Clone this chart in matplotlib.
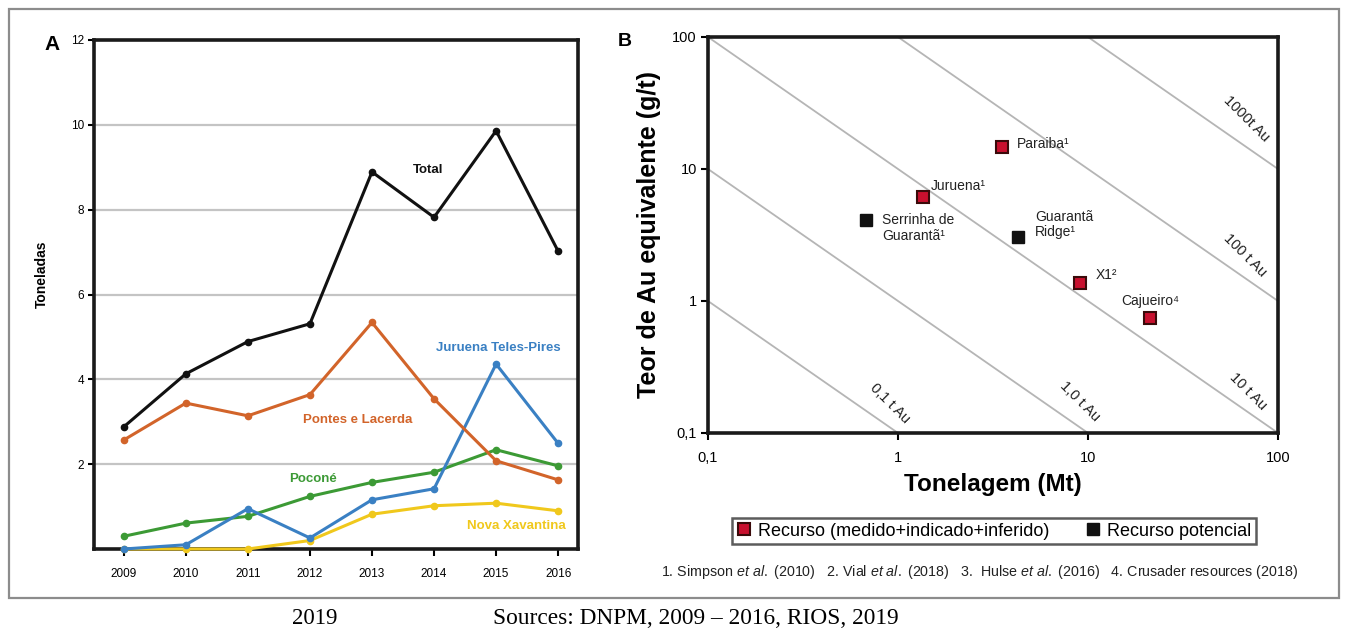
import numpy as np
import matplotlib
matplotlib.use("Agg")
import matplotlib.pyplot as plt
from matplotlib.patches import Rectangle
from matplotlib.lines import Line2D

plt.rcParams['font.family'] = ['Liberation Sans', 'DejaVu Sans']
plt.rcParams['mathtext.fontset'] = 'custom'
plt.rcParams['mathtext.rm'] = 'Liberation Sans'
plt.rcParams['mathtext.it'] = 'Liberation Sans:italic'

# ---------------- Panel A data ----------------
years = [2009, 2010, 2011, 2012, 2013, 2014, 2015, 2016]
total = [2.88, 4.13, 4.89, 5.31, 8.89, 7.82, 9.86, 7.02]
pontes_lacerda = [2.57, 3.44, 3.14, 3.64, 5.34, 3.54, 2.08, 1.63]
juruena_teles_pires = [0.0, 0.10, 0.95, 0.26, 1.16, 1.42, 4.36, 2.49]
pocone = [0.30, 0.61, 0.77, 1.24, 1.57, 1.81, 2.34, 1.96]
nova_xavantina = [0.0, 0.0, 0.0, 0.20, 0.82, 1.02, 1.08, 0.90]
yticksA = [2, 4, 6, 8, 10, 12]

# ---------------- Panel B data ----------------
deposits = ["Paraiba¹", "Juruena¹", "Serrinha de\nGuarantã¹", "Guarantã\nRidge¹", "X1²", "Cajueiro⁴"]
tonnage_mt = [3.52, 1.36, 0.68, 4.27, 9.07, 21.2]
grade_gt = [14.6, 6.1, 4.11, 3.07, 1.36, 0.74]
resource_type = ["R", "R", "P", "P", "R", "R"]
iso_tonnes = [0.1, 1, 10, 100, 1000]
iso_labels = ["0,1 t Au", "1,0 t Au", "10 t Au", "100 t Au", "1000t Au"]
logticks = [0.1, 1, 10, 100]
logtick_labels = ["0,1", "1", "10", "100"]

W, H = 1347, 632
fig = plt.figure(figsize=(W / 100, H / 100), dpi=100)
fig.patch.set_facecolor('white')

# frame around figure
fig.add_artist(Rectangle((9 / W, 1 - 598 / H), (1339 - 9) / W, (598 - 9) / H,
                         transform=fig.transFigure, fill=False,
                         edgecolor='#8c8c8c', lw=1.6))

# ================= Panel A =================
axA = fig.add_axes([94 / W, 1 - 549 / H, (578 - 94) / W, (549 - 40) / H])
for y in [2, 4, 6, 8, 10]:
    axA.axhline(y, color='#c4c4c4', lw=1.6, zorder=0)

series = [
    (total, '#111111', "Total", 2013.9, 8.94),
    (pontes_lacerda, '#d2642a', "Pontes e Lacerda", 2012.77, 3.04),
    (juruena_teles_pires, '#3a80c3', "Juruena Teles-Pires", 2015.03, 4.75),
    (pocone, '#3c9a35', "Poconé", 2012.05, 1.64),
    (nova_xavantina, '#f0c81c', "Nova Xavantina", 2015.32, 0.54),
]
for vals, col, name, lx, ly in reversed(series):
    axA.plot(years, vals, color=col, lw=2.2, marker='o', ms=4.5,
             markerfacecolor=col, markeredgecolor=col, clip_on=False, zorder=3)
    axA.text(lx, ly, name, color=col, fontsize=9.5, fontweight='bold',
             ha='center', va='center')

axA.set_xlim(2008.52, 2016.32)
axA.set_ylim(0, 12)
axA.set_yticks(yticksA)
axA.set_yticklabels([str(v) for v in yticksA])
axA.set_xticks(years)
axA.set_xticklabels([str(v) for v in years])
axA.tick_params(axis='both', direction='out', length=4, width=1.5,
                labelsize=8.5, pad=3)
axA.tick_params(axis='x', length=5, pad=9)
for s in axA.spines.values():
    s.set_linewidth(2.6)
    s.set_color('#1a1a1a')
axA.set_ylabel("Toneladas", fontsize=10, fontweight='bold')
axA.yaxis.set_label_coords(-0.093, 0.54)
fig.text(52 / W, 1 - 44 / H, "A", fontsize=15, fontweight='bold',
         ha='center', va='center')

# ================= Panel B =================
axB = fig.add_axes([708 / W, 1 - 433 / H, (1278 - 708) / W, (433 - 37) / H])
axB.set_xscale('log')
axB.set_yscale('log')
axB.set_xlim(0.1, 100)
axB.set_ylim(0.1, 100)

xx = np.array([0.1, 100.0])
for t in iso_tonnes:
    axB.plot(xx, t / xx, color='#b5b5b5', lw=1.3, zorder=1)

label_pos = [(0.908, 0.168), (9.08, 0.173), (69.8, 0.206), (67.0, 2.23), (68.4, 24.2)]
for lab, (lx, ly) in zip(iso_labels, label_pos):
    axB.text(lx, ly, lab, rotation=-45, fontsize=10.5, ha='center', va='center',
             rotation_mode='anchor', color='#222222')

for name, tx, gy, rt in zip(deposits, tonnage_mt, grade_gt, resource_type):
    if rt == "R":
        axB.plot(tx, gy, marker='s', ms=9, markerfacecolor='#c8102e',
                 markeredgecolor='#3a0a0a', markeredgewidth=1.5, zorder=4, ls='none')
    else:
        axB.plot(tx, gy, marker='s', ms=9, markerfacecolor='#111111',
                 markeredgecolor='#111111', zorder=4, ls='none')

label_offsets = {
    "Paraiba¹": (15, 3, 'left', 'center'),
    "Juruena¹": (7, 11, 'left', 'center'),
    "Serrinha de\nGuarantã¹": (16, -8, 'left', 'center'),
    "Guarantã\nRidge¹": (17, 12, 'left', 'center'),
    "X1²": (16, 8, 'left', 'center'),
    "Cajueiro⁴": (0, 17, 'center', 'center'),
}
for name, tx, gy in zip(deposits, tonnage_mt, grade_gt):
    dx, dy, ha, va = label_offsets[name]
    axB.annotate(name, (tx, gy), xytext=(dx, dy), textcoords='offset pixels',
                 fontsize=10, ha=ha, va=va, linespacing=1.1, color='#222222')

axB.xaxis.set_major_locator(matplotlib.ticker.FixedLocator(logticks))
axB.yaxis.set_major_locator(matplotlib.ticker.FixedLocator(logticks))
axB.xaxis.set_minor_locator(matplotlib.ticker.NullLocator())
axB.yaxis.set_minor_locator(matplotlib.ticker.NullLocator())
axB.set_xticklabels(logtick_labels)
axB.set_yticklabels(logtick_labels)
axB.tick_params(axis='both', direction='out', length=5, width=1.5,
                labelsize=10.5, pad=3)
axB.tick_params(axis='x', pad=8)
for s in axB.spines.values():
    s.set_linewidth(2.6)
    s.set_color('#1a1a1a')
axB.set_xlabel("Tonelagem (Mt)", fontsize=17.5, fontweight='bold', labelpad=6)
axB.set_ylabel("Teor de Au equivalente (g/t)", fontsize=18, fontweight='bold', labelpad=8)
fig.text(625 / W, 1 - 42 / H, "B", fontsize=14, fontweight='bold',
         ha='center', va='center')

handles = [
    Line2D([], [], marker='s', ls='none', ms=9, markerfacecolor='#c8102e',
           markeredgecolor='#3a0a0a', markeredgewidth=1.5),
    Line2D([], [], marker='s', ls='none', ms=9, markerfacecolor='#111111',
           markeredgecolor='#111111'),
]
leg = fig.legend(handles, ["Recurso (medido+indicado+inferido)", "Recurso potencial"],
                 loc='center', bbox_to_anchor=(994 / W, 1 - 531 / H), ncol=2,
                 fontsize=13, frameon=True, fancybox=False, edgecolor='#333333',
                 handlelength=0.8, handletextpad=0.4, columnspacing=2.0,
                 borderpad=0.25)
leg.get_frame().set_linewidth(1.8)

fig.text(980 / W, 1 - 572 / H,
         r"1. Simpson $\it{et\ al.}$ (2010)   2. Vial $\it{et\ al.}$ (2018)   "
         r"3.  Hulse $\it{et\ al.}$ (2016)   4. Crusader resources (2018)",
         fontsize=10.3, ha='center', va='center', color='#222222')

# ================= captions below frame =================
fig.text(315 / W, 1 - 618 / H, "2019", fontsize=16.5, family='Liberation Serif',
         ha='center', va='center')
fig.text(696 / W, 1 - 619 / H, "Sources: DNPM, 2009 – 2016, RIOS, 2019",
         fontsize=16.8, family='Liberation Serif', ha='center', va='center')

fig.savefig("out.png", dpi=100, facecolor='white')
